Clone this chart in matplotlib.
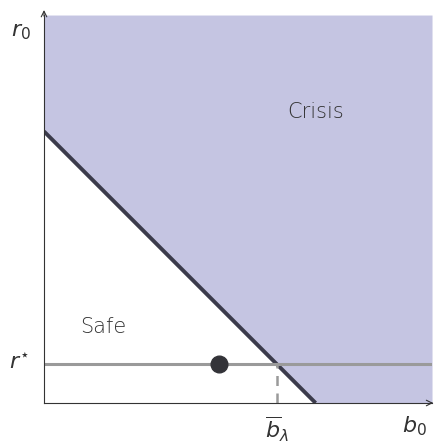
import numpy as np
import matplotlib.pyplot as plt

plt.rcParams['mathtext.fontset'] = 'dejavusans'

# boundary of the crisis region: r0 = 7 - b0
b_edge = [0, 7, 10]
r_edge = [7, 0, 0]
r_star = 1.0
b_bar = 6.0
dot_b = 4.5

fig = plt.figure(figsize=(4.37, 4.43), dpi=100)
ax = fig.add_axes([0.1007, 0.0903, 0.8879, 0.8758])

ax.fill_between(b_edge, r_edge, 10, color='#c5c5e2', linewidth=0)
ax.plot(b_edge[:2], r_edge[:2], color='#3b3b4b', linewidth=2.8, solid_capstyle='butt')
ax.axhline(r_star, color='#9a9a9a', linewidth=2.2)
ax.plot([b_bar, b_bar], [0, r_star], color='#9a9a9a', linewidth=1.8, linestyle=(0, (4, 3)))
ax.plot([dot_b], [r_star], 'o', color='#333338', markersize=12)

ax.text(7.0, 7.5, 'Crisis', fontsize=15, color='#333333', ha='center', va='center',
        fontweight='light')
ax.text(1.52, 1.96, 'Safe', fontsize=15, color='#333333', ha='center', va='center',
        fontweight='light')

ax.set_xlim(0, 10)
ax.set_ylim(0, 10)
for s in ['top', 'right']:
    ax.spines[s].set_visible(False)
ax.spines['left'].set_color('#333333')
ax.spines['bottom'].set_color('#333333')
ax.set_xticks([])
ax.set_yticks([])

# axis arrows
ax.annotate('', xy=(0, 10.2), xytext=(0, 9.9), xycoords='data', annotation_clip=False,
            arrowprops=dict(arrowstyle='->', color='#333333', lw=0.8))
ax.annotate('', xy=(10.1, 0), xytext=(9.9, 0), xycoords='data', annotation_clip=False,
            arrowprops=dict(arrowstyle='->', color='#333333', lw=0.8))

ax.text(-0.6, 9.55, r'$r_0$', fontsize=16, color='#333333', ha='center', va='center')
ax.text(-0.65, 1.05, r'$r^{\star}$', fontsize=16, color='#333333', ha='center', va='center')
ax.text(b_bar, -0.68, r'$\overline{b}_{\lambda}$', fontsize=16, color='#333333', ha='center', va='center')
ax.text(9.55, -0.6, r'$b_0$', fontsize=16, color='#333333', ha='center', va='center')

fig.savefig('out.png', dpi=100)
